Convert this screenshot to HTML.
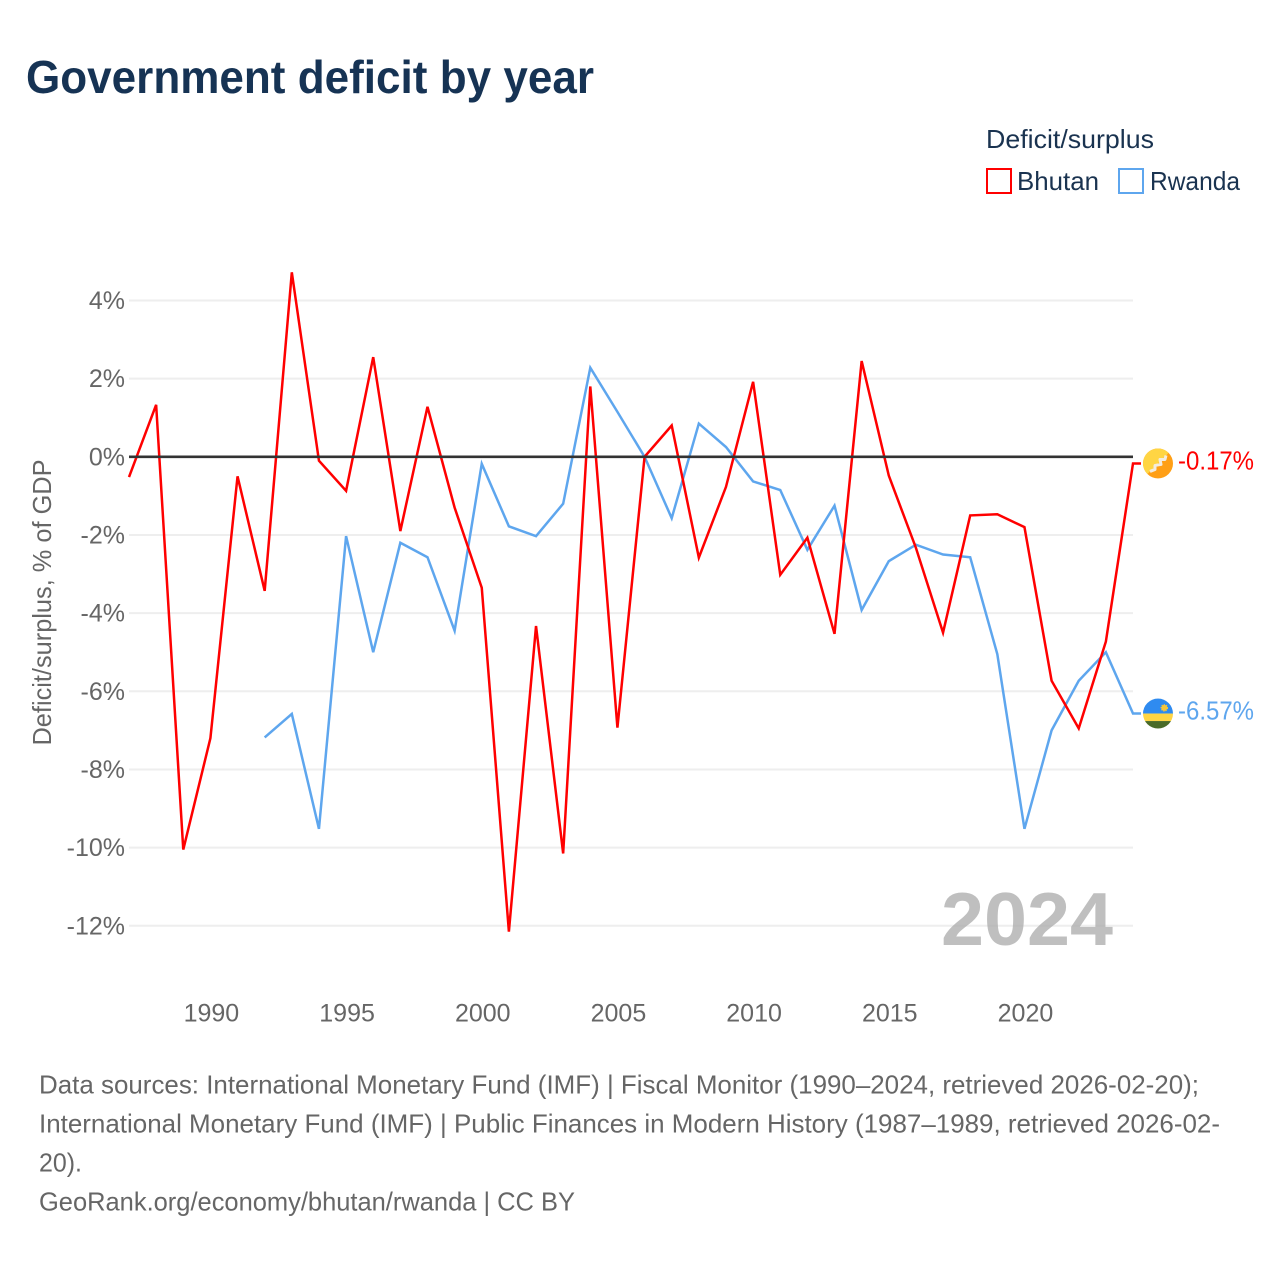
<!DOCTYPE html>
<html lang="en">
<head>
<meta charset="utf-8">
<title>Government deficit by year</title>
<style>
html,body{margin:0;padding:0;background:#fff;}
svg{display:block;font-family:"Liberation Sans",sans-serif;}
.tick{font-size:25px;fill:#666;}
.foot{font-size:26px;fill:#666;}
.leg{font-size:26px;fill:#1a3350;}
</style>
</head>
<body>
<svg id="chart" xmlns="http://www.w3.org/2000/svg" width="1280" height="1280" viewBox="0 0 1280 1280">
  <rect x="0" y="0" width="1280" height="1280" fill="#fff"/>
  <text x="26" y="93" font-size="46" font-weight="700" fill="#163354" textLength="568" lengthAdjust="spacingAndGlyphs">Government deficit by year</text>

  <text class="leg" x="986" y="148" textLength="168" lengthAdjust="spacingAndGlyphs">Deficit/surplus</text>
  <g>
    <rect x="987" y="169" width="24" height="24" fill="none" stroke="#ff0000" stroke-width="2"/>
    <text class="leg" x="1017" y="190" textLength="82" lengthAdjust="spacingAndGlyphs">Bhutan</text>
  </g>
  <g>
    <rect x="1119" y="169" width="24" height="24" fill="none" stroke="#5ea6ee" stroke-width="2"/>
    <text class="leg" x="1150" y="190" textLength="90" lengthAdjust="spacingAndGlyphs">Rwanda</text>
  </g>

  <g id="grid"></g>
  <g id="yticks"></g>
  <g id="xticks"></g>
  <text transform="translate(51,602.5) rotate(-90)" text-anchor="middle" font-size="26" fill="#666" textLength="286" lengthAdjust="spacingAndGlyphs">Deficit/surplus, % of GDP</text>

  <g id="series"></g>
  <line id="zero" stroke="#333" stroke-width="2.6"/>

  <text x="941" y="945" font-size="75" font-weight="700" fill="#aaa" fill-opacity="0.75" textLength="172" lengthAdjust="spacingAndGlyphs">2024</text>

  <defs>
    <clipPath id="clip-bt"><circle id="clip-bt-c" r="15"/></clipPath>
    <clipPath id="clip-rw"><circle id="clip-rw-c" r="15"/></clipPath>
  </defs>
  <g id="flag-bt" clip-path="url(#clip-bt)">
    <rect x="-15" y="-15" width="30" height="30" fill="#ff9f16"/>
    <polygon points="-15,-15 15,-15 -15,15" fill="#ffd543"/>
    <path d="M-8,8 L-3,6 L-3,2 L3,1 L2,-4 L7,-4 L8,-8" fill="none" stroke="#f3ece0" stroke-width="3" stroke-linejoin="round"/>
  </g>
  <g id="flag-rw" clip-path="url(#clip-rw)">
    <rect x="-15" y="-15" width="30" height="15" fill="#2f8bf0"/>
    <rect x="-15" y="0" width="30" height="7.5" fill="#ffd543"/>
    <rect x="-15" y="7.5" width="30" height="7.5" fill="#4a6b28"/>
    <circle cx="6.3" cy="-5.7" r="3" fill="#f5c63c" stroke="#f5c63c" stroke-width="1.5" stroke-dasharray="1.2 1"/>
  </g>
  <text id="val-bt" font-size="26" fill="#ff0000" textLength="76" lengthAdjust="spacingAndGlyphs"></text>
  <text id="val-rw" font-size="26" fill="#5ea6ee" textLength="76" lengthAdjust="spacingAndGlyphs"></text>

  <g>
    <text class="foot" x="39" y="1093.5" textLength="1160" lengthAdjust="spacingAndGlyphs">Data sources: International Monetary Fund (IMF) | Fiscal Monitor (1990–2024, retrieved 2026-02-20);</text>
    <text class="foot" x="39" y="1132.5" textLength="1181" lengthAdjust="spacingAndGlyphs">International Monetary Fund (IMF) | Public Finances in Modern History (1987–1989, retrieved 2026-02-</text>
    <text class="foot" x="39" y="1171.5" textLength="43" lengthAdjust="spacingAndGlyphs">20).</text>
    <text class="foot" x="39" y="1210.5" textLength="536" lengthAdjust="spacingAndGlyphs">GeoRank.org/economy/bhutan/rwanda | CC BY</text>
  </g>
</svg>
<script>
const firstYear = 1987;
const bhutanValues = [-0.52,1.33,-10.05,-7.2,-0.5,-3.43,4.72,-0.1,-0.87,2.55,-1.9,1.28,-1.3,-3.35,-12.15,-4.33,-10.15,1.8,-6.93,0,0.8,-2.58,-0.77,1.92,-3.02,-2.07,-4.53,2.45,-0.48,-2.33,-4.5,-1.5,-1.47,-1.8,-5.73,-6.95,-4.73,-0.17];
const rwandaValues = [null,null,null,null,null,-7.18,-6.58,-9.52,-2.03,-5.0,-2.2,-2.57,-4.45,-0.18,-1.78,-2.03,-1.2,2.28,1.15,0,-1.57,0.85,0.25,-0.63,-0.85,-2.38,-1.25,-3.92,-2.67,-2.25,-2.5,-2.57,-5.05,-9.52,-7.0,-5.73,-5.0,-6.57];
const yTickValues = [4,2,0,-2,-4,-6,-8,-10,-12];
const xTickYears = [1990,1995,2000,2005,2010,2015,2020];
const lastYear = 2024;

const NS = 'http://www.w3.org/2000/svg';
const plotLeft = 129, plotRight = 1133, zeroY = 456.8, pxPerUnit = 39.08;
function xScale(year){ return plotLeft + (year - firstYear) * (plotRight - plotLeft) / (lastYear - firstYear); }
function yScale(v){ return zeroY - v * pxPerUnit; }

const grid = document.getElementById('grid');
const yticks = document.getElementById('yticks');
yTickValues.forEach(function(v){
  const l = document.createElementNS(NS,'line');
  
  
  l.setAttribute('x1', plotLeft);
  l.setAttribute('x2', plotRight);
  l.setAttribute('y1', yScale(v));
  l.setAttribute('y2', yScale(v));
  l.setAttribute('stroke', '#eeeeee');
  l.setAttribute('stroke-width', '2');
  grid.appendChild(l);
  const t = document.createElementNS(NS,'text');
  
  
  t.setAttribute('class', 'tick');
  t.setAttribute('x', 125);
  t.setAttribute('y', yScale(v) + 8.5);
  t.setAttribute('text-anchor', 'end');
  t.textContent = v + '%';
  yticks.appendChild(t);
});

const xticks = document.getElementById('xticks');
xTickYears.forEach(function(yr){
  const t = document.createElementNS(NS,'text');
  
  
  t.setAttribute('class', 'tick');
  t.setAttribute('x', xScale(yr) + 1);
  t.setAttribute('y', 1021.5);
  t.setAttribute('text-anchor', 'middle');
  t.textContent = String(yr);
  xticks.appendChild(t);
});

const zero = document.getElementById('zero');
zero.setAttribute('x1', plotLeft);
zero.setAttribute('x2', plotRight);
zero.setAttribute('y1', yScale(0));
zero.setAttribute('y2', yScale(0));

function drawSeries(values, color, name, width){
  const pts = [];
  values.forEach(function(v,i){
    if (v !== null) pts.push(xScale(firstYear + i).toFixed(2) + ',' + yScale(v).toFixed(2));
  });
  const last = values[values.length - 1];
  pts.push((plotRight + 8) + ',' + yScale(last).toFixed(2));
  const p = document.createElementNS(NS,'polyline');
  
  
  p.setAttribute('points', pts.join(' '));
  p.setAttribute('fill', 'none');
  p.setAttribute('stroke', color);
  p.setAttribute('stroke-width', width);
  p.setAttribute('stroke-linejoin', 'miter');
  document.getElementById('series').appendChild(p);
}
drawSeries(rwandaValues, '#5ea6ee', 'rwanda-line', 2.5);
drawSeries(bhutanValues, '#ff0000', 'bhutan-line', 2.5);

function placeEnd(values, flagId, clipId, labelId){
  const last = values[values.length - 1];
  const y = yScale(last);
  document.getElementById(flagId).setAttribute('transform', 'translate(1158,' + y + ')');
  const c = document.getElementById(clipId);
  c.setAttribute('cx', 0);
  c.setAttribute('cy', 0);
  const t = document.getElementById(labelId);
  t.setAttribute('x', 1178);
  t.setAttribute('y', y + 6);
  t.textContent = last.toFixed(2) + '%';
}
placeEnd(bhutanValues, 'flag-bt', 'clip-bt-c', 'val-bt');
placeEnd(rwandaValues, 'flag-rw', 'clip-rw-c', 'val-rw');
</script>
</body>
</html>
